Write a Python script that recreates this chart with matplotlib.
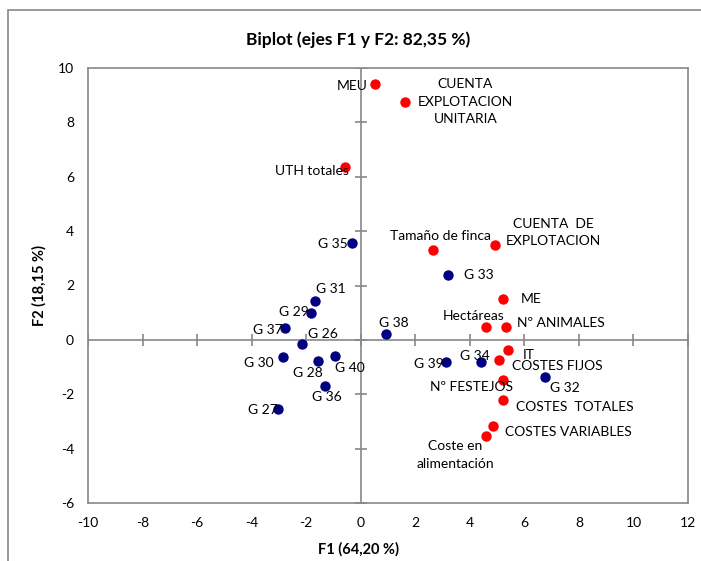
import matplotlib.pyplot as plt
from matplotlib.patches import Rectangle
import numpy as np

plt.rcParams['font.family'] = ['Lato', 'DejaVu Sans']
plt.rcParams['axes.unicode_minus'] = False

# variables (red)
var_names = ['MEU', 'CUENTA\nEXPLOTACION\nUNITARIA', 'UTH totales', 'Tamaño de finca',
             'CUENTA  DE\nEXPLOTACION', 'ME', 'Hectáreas', 'Nº ANIMALES', 'IT',
             'COSTES FIJOS', 'Nº FESTEJOS', 'COSTES  TOTALES', 'COSTES VARIABLES',
             'Coste en\nalimentación']
var_f1 = [0.54, 1.64, -0.57, 2.66, 4.93, 5.23, 4.59, 5.33, 5.39, 5.07, 5.22, 5.22, 4.86, 4.59]
var_f2 = [9.42, 8.75, 6.36, 3.31, 3.48, 1.50, 0.49, 0.49, -0.36, -0.75, -1.48, -2.21, -3.16, -3.53]

# observations (blue)
obs_names = ['G 35', 'G 33', 'G 38', 'G 39', 'G 34', 'G 32', 'G 31', 'G 29',
             'G 37', 'G 26', 'G 30', 'G 28', 'G 40', 'G 36', 'G 27']
obs_f1 = [-0.32, 3.20, 0.92, 3.13, 4.41, 6.74, -1.66, -1.83, -2.78, -2.16, -2.86, -1.56, -0.94, -1.30, -3.05]
obs_f2 = [3.56, 2.38, 0.20, -0.82, -0.82, -1.35, 1.42, 1.00, 0.42, -0.16, -0.64, -0.78, -0.61, -1.69, -2.55]

xticks = np.arange(-10, 13, 2)
yticks = np.arange(-6, 11, 2)

# label placement: (dx, dy, ha) in pixels
var_off = [(-8, -2, 'right'), (60, 0, 'center'), (4, -4, 'right'), (7, 14, 'center'),
           (58, 13, 'center'), (17, 0, 'left'), (-12, 11, 'center'), (11, 4, 'left'),
           (15, -5, 'left'), (13, -6, 'left'), (-32, -7, 'center'), (13, -7, 'left'),
           (12, -6, 'left'), (-31, -19, 'center')]
obs_off = [(-4, -1, 'right'), (16, 0, 'left'), (8, 11, 'center'), (-2, -2, 'right'),
           (-6, 6, 'center'), (20, -11, 'center'), (15, 12, 'center'), (-2, 1, 'right'),
           (-2, -2, 'right'), (21, 10, 'center'), (-9, -6, 'right'), (-10, -12, 'center'),
           (15, -12, 'center'), (2, -11, 'center'), (0, -1, 'right')]

fig = plt.figure(figsize=(7.01, 5.61), dpi=100)
ax = fig.add_axes([88 / 701, 1 - 503 / 561, 600 / 701, 435 / 561])

gray = '#888888'
fig.patches.append(Rectangle((8 / 701, -0.1), 1.2, 1 - 10 / 561 + 0.1, transform=fig.transFigure,
                             fill=False, edgecolor=gray, lw=1.2))

ax.axhline(0, color=gray, lw=1.2, zorder=1)
ax.axvline(0, color=gray, lw=1.2, zorder=1)
ax.plot(xticks, np.zeros_like(xticks), ls='none', marker='|', ms=8, mew=1.2, color=gray, zorder=1)
ax.plot(np.zeros_like(yticks), yticks, ls='none', marker='_', ms=8, mew=1.2, color=gray, zorder=1)

ax.scatter(var_f1, var_f2, s=42, color='#ff0000', zorder=3)
ax.scatter(obs_f1, obs_f2, s=42, color='#000080', zorder=3)

for name, x, y, (dx, dy, ha) in zip(var_names, var_f1, var_f2, var_off):
    ax.annotate(name, (x, y), xytext=(dx, dy), textcoords='offset pixels',
                ha=ha, va='center', multialignment='center', fontsize=10,
                linespacing=1.55, zorder=4)
for name, x, y, (dx, dy, ha) in zip(obs_names, obs_f1, obs_f2, obs_off):
    ax.annotate(name, (x, y), xytext=(dx, dy), textcoords='offset pixels',
                ha=ha, va='center', fontsize=10, zorder=4)

ax.set_xlim(-10, 12)
ax.set_ylim(-6, 10)
ax.set_xticks(xticks)
ax.set_yticks(yticks)
ax.tick_params(length=0, labelsize=10, pad=10)
for s in ax.spines.values():
    s.set_color(gray)
    s.set_linewidth(1.2)

fig.text(358 / 701, 1 - 40 / 561, 'Biplot (ejes F1 y F2: 82,35 %)', fontsize=12.5,
         fontweight='bold', ha='center', va='center')
fig.text(358 / 701, 1 - 549 / 561, 'F1 (64,20 %)', fontsize=10.5,
         fontweight='bold', ha='center', va='center')
ax.set_ylabel('F2 (18,15 %)', fontsize=10.5, fontweight='bold', labelpad=8)

fig.savefig('out.png', dpi=100)
